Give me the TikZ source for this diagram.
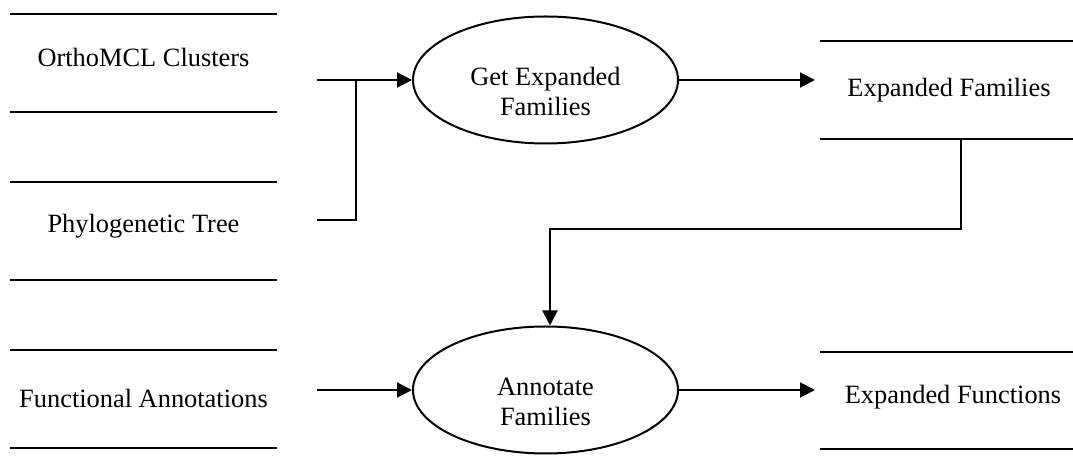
\documentclass[tikz,border=0pt]{standalone}
\usepackage{fontspec}
\setmainfont{Liberation Serif}
\usetikzlibrary{arrows.meta,shapes.geometric,calc}
\begin{document}
\begin{tikzpicture}[x=0.5pt,y=-0.5pt,
  line width=1pt,
  lbl/.style={font=\fontsize{13.2}{15}\selectfont, inner sep=0pt, anchor=base},
  plbl/.style={font=\fontsize{13.2}{15}\selectfont, inner sep=0pt, align=center},
  store/.style={inner sep=0pt},
  proc/.style={draw, ellipse, inner sep=0pt, minimum width=132.5pt, minimum height=63.5pt},
  flow/.style={-{Triangle[length=7.5pt,width=7.5pt]}},
]
\useasboundingbox (0,0) rectangle (1073,459);

% data stores
\node[store, minimum width=132.5pt, minimum height=48pt] (oc) at (143.5,63.5) {};
\node[store, minimum width=132.5pt, minimum height=48pt] (pt) at (143.5,231.5) {};
\node[store, minimum width=132.5pt, minimum height=48pt] (fa) at (143.5,399.5) {};
\node[store, minimum width=126pt, minimum height=48pt] (ef) at (947,90) {};
\node[store, minimum width=126pt, minimum height=47.5pt] (efn) at (947,400.5) {};
\foreach \n in {oc,pt,fa,ef,efn}
  \draw (\n.north west) -- (\n.north east) (\n.south west) -- (\n.south east);

\node[lbl] (octx) at (143.5,67) {OrthoMCL Clusters};
\node[lbl] (pttx) at (143.5,233) {Phylogenetic Tree};
\node[lbl] (fatx) at (143.5,408) {Functional Annotations};
\node[lbl] (eftx) at (949,97) {Expanded Families};
\node[lbl] (efntx) at (953,404) {Expanded Functions};

% processes
\node[proc] (gef) at (545.5,80) {};
\node[plbl] (geftx) at (545.5,91) {Get Expanded\\Families};
\node[proc] (ae) at (545.5,390) {};
\node[plbl] (aetx) at (545.5,402) {Annotate\\Families};

% connectors
\coordinate (ocout) at (317,80);
\coordinate (ptout) at (317,220);
\coordinate (join) at (356,80);
\coordinate (efin) at (815,80);
\coordinate (efout) at ($(ef.south)+(14,0)$);
\coordinate (aein) at ($(ae.north)+(4.5,0)$);
\coordinate (faout) at (317,390);
\coordinate (efnin) at (815,390);

\draw[flow] (ocout) -- (gef.west);
\draw (ptout) -| (join);
\draw[flow] (gef.east) -- (efin);
\draw[flow] (efout) -- ++(0,90) -| (aein);
\draw[flow] (faout) -- (ae.west);
\draw[flow] (ae.east) -- (efnin);
\end{tikzpicture}
\end{document}
